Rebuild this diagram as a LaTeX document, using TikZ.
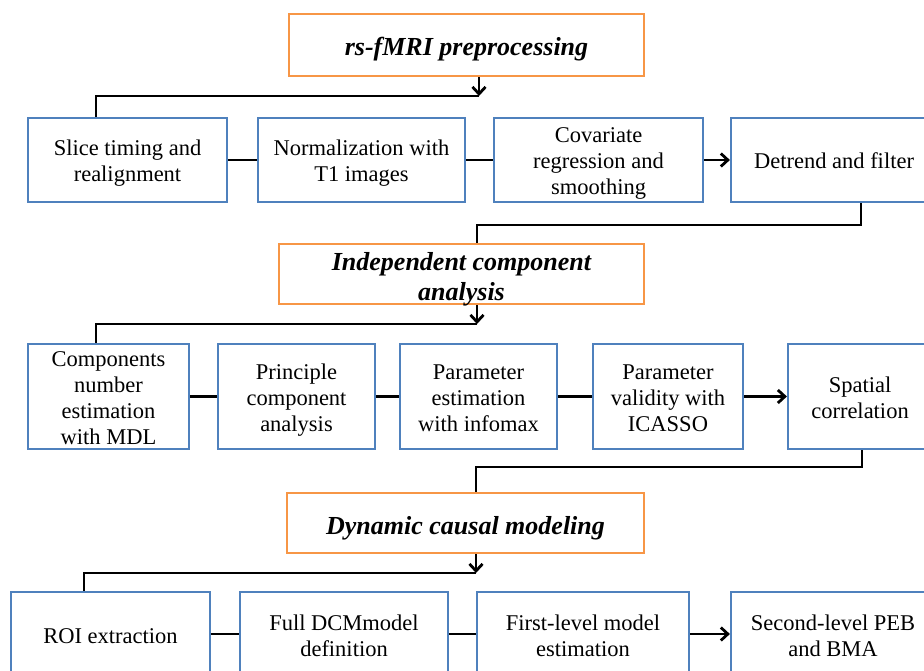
\documentclass[tikz,border=0pt]{standalone}
\usepackage{fontspec}
\setmainfont{Liberation Serif}
\usetikzlibrary{arrows.meta}
\definecolor{boxblue}{HTML}{4F81BD}
\definecolor{boxorange}{HTML}{F79646}
\newcommand\bxtext[2][3pt]{\raisebox{-#1}[\height][\depth]{\begin{tabular}{@{}c@{}}#2\end{tabular}}}
\tikzset{
  stepbox/.style={draw=boxblue, line width=2.2pt, rectangle, inner sep=0pt,
    font=\fontsize{22.5}{26}\selectfont, fill=white},
  titlebox/.style={draw=boxorange, line width=2.2pt, rectangle, inner sep=0pt,
    font=\fontsize{26}{30}\selectfont\bfseries\itshape, fill=white},
  link/.style={draw=black, line width=2.8pt},
  arr/.style={link, -{Straight Barb[length=7pt,width=13pt]}}
}
\begin{document}
\begin{tikzpicture}[x=1pt,y=-1pt]
\useasboundingbox (0,0) rectangle (924,671);
% titles
\node[titlebox, minimum width=355pt, minimum height=62pt] (t1) at (466.5,45) {\bxtext[5pt]{rs-fMRI preprocessing}};
\node[titlebox, minimum width=365pt, minimum height=60pt] (t2) at (461.5,274) {\bxtext[5.5pt]{Independent component\\analysis}};
\node[titlebox, minimum width=357pt, minimum height=60pt] (t3) at (465.5,523) {\bxtext[5pt]{Dynamic causal modeling}};
% row 1
\node[stepbox, minimum width=199pt, minimum height=84pt] (b11) at (127.5,160) {\bxtext{Slice timing and\\realignment}};
\node[stepbox, minimum width=207pt, minimum height=84pt] (b12) at (361.5,160) {\bxtext{Normalization with\\T1 images}};
\node[stepbox, minimum width=209pt, minimum height=84pt] (b13) at (598.5,160) {\bxtext{Covariate\\regression and\\smoothing}};
\node[stepbox, minimum width=206pt, minimum height=84pt] (b14) at (834,160) {\bxtext{Detrend and filter}};
% row 2
\node[stepbox, minimum width=161pt, minimum height=105pt] (b21) at (108.5,396.5) {\bxtext[4pt]{Components\\number\\estimation\\with MDL}};
\node[stepbox, minimum width=157pt, minimum height=105pt] (b22) at (296.5,396.5) {\bxtext[4pt]{Principle\\component\\analysis}};
\node[stepbox, minimum width=157pt, minimum height=105pt] (b23) at (478.5,396.5) {\bxtext[4pt]{Parameter\\estimation\\with infomax}};
\node[stepbox, minimum width=150pt, minimum height=105pt] (b24) at (668,396.5) {\bxtext[4pt]{Parameter\\validity with\\ICASSO}};
\node[stepbox, minimum width=144pt, minimum height=105pt] (b25) at (860,396.5) {\bxtext[4pt]{Spatial\\correlation}};
% row 3
\node[stepbox, minimum width=199pt, minimum height=84pt] (b31) at (110.5,634) {\bxtext[4pt]{ROI extraction}};
\node[stepbox, minimum width=208pt, minimum height=84pt] (b32) at (344,634) {\bxtext[4pt]{Full DCMmodel\\definition}};
\node[stepbox, minimum width=212pt, minimum height=84pt] (b33) at (583,634) {\bxtext[4pt]{First-level model\\estimation}};
\node[stepbox, minimum width=204pt, minimum height=84pt] (b34) at (833,634) {\bxtext[4pt]{Second-level PEB\\and BMA}};
% junction coordinates
\coordinate (j1) at (479,96);
\coordinate (k1) at (96,96);
\coordinate (j2) at (477,324);
\coordinate (k2) at (96,324);
\coordinate (j3) at (476,573);
\coordinate (k3) at (84,573);
\coordinate (d1) at (861,225);
\coordinate (e1) at (477,225);
\coordinate (d2) at (862,467);
\coordinate (e2) at (476,467);
% title -> rows
\draw[arr] (t1.south -| j1) -- (j1);
\draw[link] (j1) -- (k1) -- (b11.north -| k1);
\draw[arr] (t2.south -| j2) -- (j2);
\draw[link] (j2) -- (k2) -- (b21.north -| k2);
\draw[arr] (t3.south -| j3) -- (j3);
\draw[link] (j3) -- (k3) -- (b31.north -| k3);
% rows -> next title
\draw[link] (b14.south -| d1) -- (d1) -- (e1) -- (t2.north -| e1);
\draw[link] (b25.south -| d2) -- (d2) -- (e2) -- (t3.north -| e2);
% row links
\draw[link] (b11.east) -- (b12.west);
\draw[link] (b12.east) -- (b13.west);
\draw[arr] (b13.east) -- (b14.west);
\draw[link] (b21.east) -- (b22.west);
\draw[link] (b22.east) -- (b23.west);
\draw[link] (b23.east) -- (b24.west);
\draw[arr] (b24.east) -- (b25.west);
\draw[link] (b31.east) -- (b32.west);
\draw[link] (b32.east) -- (b33.west);
\draw[arr] (b33.east) -- (b34.west);
\end{tikzpicture}
\end{document}
